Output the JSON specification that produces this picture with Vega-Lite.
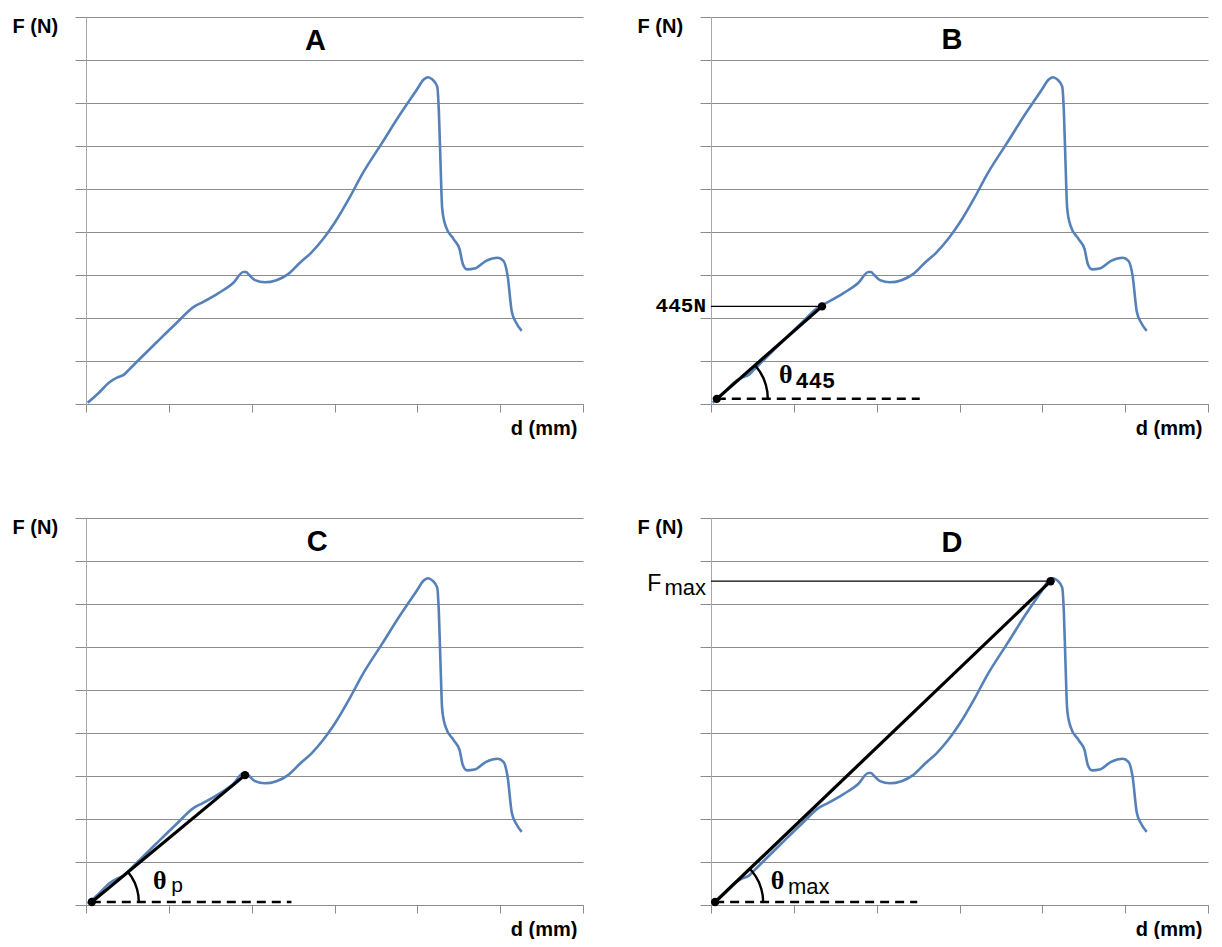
{
  "$schema": "https://vega.github.io/schema/vega-lite/v6.json",
  "background": "white",
  "padding": {"left": 12, "top": 16, "right": 0, "bottom": 0},
  "config": {
    "view": {"stroke": null}
  },
  "datasets": {
    "curve": [
      {"d": 0.02, "F": 0.03}, {"d": 0.15, "F": 0.25}, {"d": 0.28, "F": 0.5}, {"d": 0.38, "F": 0.62}, {"d": 0.45, "F": 0.67},
      {"d": 0.52, "F": 0.8}, {"d": 0.66, "F": 1.07}, {"d": 0.85, "F": 1.43}, {"d": 1.08, "F": 1.86}, {"d": 1.31, "F": 2.27},
      {"d": 1.41, "F": 2.37}, {"d": 1.6, "F": 2.58}, {"d": 1.78, "F": 2.82}, {"d": 1.9, "F": 3.07}, {"d": 1.93, "F": 3.07},
      {"d": 1.97, "F": 3.0}, {"d": 2.04, "F": 2.88}, {"d": 2.16, "F": 2.83}, {"d": 2.3, "F": 2.88}, {"d": 2.44, "F": 3.02},
      {"d": 2.58, "F": 3.28}, {"d": 2.72, "F": 3.52}, {"d": 2.86, "F": 3.83}, {"d": 3.0, "F": 4.21}, {"d": 3.19, "F": 4.83},
      {"d": 3.33, "F": 5.33}, {"d": 3.57, "F": 6.06}, {"d": 3.8, "F": 6.76}, {"d": 3.99, "F": 7.3}, {"d": 4.08, "F": 7.55},
      {"d": 4.13, "F": 7.6}, {"d": 4.18, "F": 7.55}, {"d": 4.24, "F": 7.38}, {"d": 4.26, "F": 6.8}, {"d": 4.28, "F": 5.6},
      {"d": 4.3, "F": 4.55}, {"d": 4.34, "F": 4.15}, {"d": 4.44, "F": 3.83}, {"d": 4.51, "F": 3.6}, {"d": 4.55, "F": 3.25},
      {"d": 4.6, "F": 3.13}, {"d": 4.69, "F": 3.15}, {"d": 4.83, "F": 3.33}, {"d": 4.97, "F": 3.4}, {"d": 5.04, "F": 3.33},
      {"d": 5.09, "F": 2.98}, {"d": 5.14, "F": 2.15}, {"d": 5.19, "F": 1.9}, {"d": 5.26, "F": 1.7}
    ],
    "ann": [
      {"panel": "B", "series": "slope", "i": 0, "d": 0.07, "F": 0.12}, {"panel": "B", "series": "slope", "i": 1, "d": 1.34, "F": 2.27},
      {"panel": "B", "series": "dash", "i": 0, "d": 0.07, "F": 0.12}, {"panel": "B", "series": "dash", "i": 1, "d": 2.52, "F": 0.12},
      {"panel": "B", "series": "ref", "i": 0, "d": 0, "F": 2.27}, {"panel": "B", "series": "ref", "i": 1, "d": 1.34, "F": 2.27},
      {"panel": "B", "series": "arc", "i": 0, "d": 0.686, "F": 0.12}, {"panel": "B", "series": "arc", "i": 1, "d": 0.68, "F": 0.285},
      {"panel": "B", "series": "arc", "i": 2, "d": 0.662, "F": 0.447}, {"panel": "B", "series": "arc", "i": 3, "d": 0.633, "F": 0.603},
      {"panel": "B", "series": "arc", "i": 4, "d": 0.592, "F": 0.748}, {"panel": "B", "series": "arc", "i": 5, "d": 0.531, "F": 0.906},
      {"panel": "C", "series": "slope", "i": 0, "d": 0.07, "F": 0.07}, {"panel": "C", "series": "slope", "i": 1, "d": 1.92, "F": 3.02},
      {"panel": "C", "series": "dash", "i": 0, "d": 0.07, "F": 0.07}, {"panel": "C", "series": "dash", "i": 1, "d": 2.48, "F": 0.07},
      {"panel": "C", "series": "arc", "i": 0, "d": 0.638, "F": 0.07}, {"panel": "C", "series": "arc", "i": 1, "d": 0.632, "F": 0.222},
      {"panel": "C", "series": "arc", "i": 2, "d": 0.616, "F": 0.371}, {"panel": "C", "series": "arc", "i": 3, "d": 0.589, "F": 0.515},
      {"panel": "C", "series": "arc", "i": 4, "d": 0.552, "F": 0.649}, {"panel": "C", "series": "arc", "i": 5, "d": 0.507, "F": 0.766},
      {"panel": "D", "series": "slope", "i": 0, "d": 0.05, "F": 0.07}, {"panel": "D", "series": "slope", "i": 1, "d": 4.1, "F": 7.53},
      {"panel": "D", "series": "dash", "i": 0, "d": 0.05, "F": 0.07}, {"panel": "D", "series": "dash", "i": 1, "d": 2.49, "F": 0.07},
      {"panel": "D", "series": "ref", "i": 0, "d": 0, "F": 7.53}, {"panel": "D", "series": "ref", "i": 1, "d": 4.1, "F": 7.53},
      {"panel": "D", "series": "arc", "i": 0, "d": 0.63, "F": 0.07}, {"panel": "D", "series": "arc", "i": 1, "d": 0.624, "F": 0.225},
      {"panel": "D", "series": "arc", "i": 2, "d": 0.607, "F": 0.378}, {"panel": "D", "series": "arc", "i": 3, "d": 0.58, "F": 0.524},
      {"panel": "D", "series": "arc", "i": 4, "d": 0.542, "F": 0.661}, {"panel": "D", "series": "arc", "i": 5, "d": 0.494, "F": 0.787},
      {"panel": "D", "series": "arc", "i": 6, "d": 0.469, "F": 0.843}
    ],
    "pts": [
      {"panel": "B", "d": 0.07, "F": 0.12}, {"panel": "B", "d": 1.34, "F": 2.27},
      {"panel": "C", "d": 0.07, "F": 0.07}, {"panel": "C", "d": 1.92, "F": 3.02},
      {"panel": "D", "d": 0.05, "F": 0.07}, {"panel": "D", "d": 4.1, "F": 7.53}
    ],
    "labels": [
      {"panel": "A", "role": "title", "text": "A", "d": 2.77, "F": 8.23},
      {"panel": "B", "role": "title", "text": "B", "d": 2.91, "F": 8.26},
      {"panel": "C", "role": "title", "text": "C", "d": 2.79, "F": 8.24},
      {"panel": "D", "role": "title", "text": "D", "d": 2.91, "F": 8.21},
      {"panel": "B", "role": "thetaMono", "text": "θ", "d": 0.82, "F": 0.49},
      {"panel": "B", "role": "subMono", "text": "445", "d": 1.02, "F": 0.37},
      {"panel": "B", "role": "leftMono", "text": "445N", "d": -0.06, "F": 2.27},
      {"panel": "C", "role": "theta", "text": "θ", "d": 0.81, "F": 0.37},
      {"panel": "C", "role": "sub", "text": "p", "d": 1.03, "F": 0.3},
      {"panel": "D", "role": "theta", "text": "θ", "d": 0.72, "F": 0.38},
      {"panel": "D", "role": "sub", "text": "max", "d": 0.93, "F": 0.26},
      {"panel": "D", "role": "Fbig", "text": "F", "d": -0.6, "F": 7.3},
      {"panel": "D", "role": "Fsub", "text": "max", "d": -0.06, "F": 7.21}
    ]
  },
  "columns": 2,
  "spacing": {"row": 114, "column": 128},
  "bounds": "flush",
  "concat": [
    {
      "width": 497, "height": 387,
      "layer": [
        {"data": {"name": "curve"}, "mark": {"type": "line", "color": "#5580b8", "strokeWidth": 2.6, "interpolate": "monotone"},
         "encoding": {
           "x": {"field": "d", "type": "quantitative", "scale": {"domain": [0, 6], "nice": false},
                 "axis": {"values": [0,1,2,3,4,5,6], "labels": false, "grid": false, "tickSize": 8, "tickColor": "#8c8c8c", "domainColor": "#8c8c8c", "title": "d (mm)", "titleFont": "Liberation Sans", "titleFontSize": 20, "titleFontWeight": "bold", "titleColor": "#000000", "titleAlign": "right", "titleX": 491, "titleY": 30, "titleBaseline": "alphabetic"}},
           "y": {"field": "F", "type": "quantitative", "scale": {"domain": [0, 9], "nice": false},
                 "axis": {"values": [0,1,2,3,4,5,6,7,8,9], "labels": false, "grid": true, "gridColor": "#8c8c8c", "gridOpacity": 1, "tickSize": 11, "tickColor": "#8c8c8c", "domainColor": "#a8a8a8", "title": "F (N)", "titleFont": "Liberation Sans", "titleFontSize": 20, "titleFontWeight": "bold", "titleColor": "#000000", "titleAngle": 0, "titleAlign": "left", "titleBaseline": "alphabetic", "titleX": -74, "titleY": 15}}}},
        {"data": {"name": "labels"}, "transform": [{"filter": "datum.panel === 'A' && datum.role === 'title'"}],
         "mark": {"type": "text", "font": "Liberation Sans", "fontWeight": "bold", "fontSize": 29, "align": "center", "baseline": "alphabetic", "color": "#000000"},
         "encoding": {"x": {"field": "d", "type": "quantitative"}, "y": {"field": "F", "type": "quantitative"}, "text": {"field": "text"}}}
      ]
    },
    {
      "width": 497, "height": 387,
      "layer": [
        {"data": {"name": "curve"}, "mark": {"type": "line", "color": "#5580b8", "strokeWidth": 2.6, "interpolate": "monotone"},
         "encoding": {
           "x": {"field": "d", "type": "quantitative", "scale": {"domain": [0, 6], "nice": false},
                 "axis": {"values": [0,1,2,3,4,5,6], "labels": false, "grid": false, "tickSize": 8, "tickColor": "#8c8c8c", "domainColor": "#8c8c8c", "title": "d (mm)", "titleFont": "Liberation Sans", "titleFontSize": 20, "titleFontWeight": "bold", "titleColor": "#000000", "titleAlign": "right", "titleX": 491, "titleY": 30, "titleBaseline": "alphabetic"}},
           "y": {"field": "F", "type": "quantitative", "scale": {"domain": [0, 9], "nice": false},
                 "axis": {"values": [0,1,2,3,4,5,6,7,8,9], "labels": false, "grid": true, "gridColor": "#8c8c8c", "gridOpacity": 1, "tickSize": 11, "tickColor": "#8c8c8c", "domainColor": "#a8a8a8", "title": "F (N)", "titleFont": "Liberation Sans", "titleFontSize": 20, "titleFontWeight": "bold", "titleColor": "#000000", "titleAngle": 0, "titleAlign": "left", "titleBaseline": "alphabetic", "titleX": -74, "titleY": 15}}}},
        {"data": {"name": "ann"}, "transform": [{"filter": "datum.panel === 'B' && datum.series === 'ref'"}], "mark": {"type": "line", "color": "#000000", "strokeWidth": 1.3},
         "encoding": {"x": {"field": "d", "type": "quantitative"}, "y": {"field": "F", "type": "quantitative"}, "order": {"field": "i"}}},
        {"data": {"name": "ann"}, "transform": [{"filter": "datum.panel === 'B' && datum.series === 'dash'"}], "mark": {"type": "line", "color": "#000000", "strokeWidth": 2.5, "strokeDash": [9, 6]},
         "encoding": {"x": {"field": "d", "type": "quantitative"}, "y": {"field": "F", "type": "quantitative"}, "order": {"field": "i"}}},
        {"data": {"name": "ann"}, "transform": [{"filter": "datum.panel === 'B' && datum.series === 'arc'"}], "mark": {"type": "line", "color": "#000000", "strokeWidth": 2.4},
         "encoding": {"x": {"field": "d", "type": "quantitative"}, "y": {"field": "F", "type": "quantitative"}, "order": {"field": "i"}}},
        {"data": {"name": "ann"}, "transform": [{"filter": "datum.panel === 'B' && datum.series === 'slope'"}], "mark": {"type": "line", "color": "#000000", "strokeWidth": 3.2},
         "encoding": {"x": {"field": "d", "type": "quantitative"}, "y": {"field": "F", "type": "quantitative"}, "order": {"field": "i"}}},
        {"data": {"name": "pts"}, "transform": [{"filter": "datum.panel === 'B'"}], "mark": {"type": "circle", "color": "#000000", "size": 70, "opacity": 1},
         "encoding": {"x": {"field": "d", "type": "quantitative"}, "y": {"field": "F", "type": "quantitative"}}},
        {"data": {"name": "labels"}, "transform": [{"filter": "datum.panel === 'B' && datum.role === 'title'"}],
         "mark": {"type": "text", "font": "Liberation Sans", "fontWeight": "bold", "fontSize": 29, "align": "center", "baseline": "alphabetic", "color": "#000000"},
         "encoding": {"x": {"field": "d", "type": "quantitative"}, "y": {"field": "F", "type": "quantitative"}, "text": {"field": "text"}}},
        {"data": {"name": "labels"}, "transform": [{"filter": "datum.panel === 'B' && datum.role === 'thetaMono'"}],
         "mark": {"type": "text", "font": "Liberation Serif", "fontWeight": "bold", "fontSize": 26, "align": "left", "baseline": "alphabetic", "color": "#000000"},
         "encoding": {"x": {"field": "d", "type": "quantitative"}, "y": {"field": "F", "type": "quantitative"}, "text": {"field": "text"}}},
        {"data": {"name": "labels"}, "transform": [{"filter": "datum.panel === 'B' && datum.role === 'subMono'"}],
         "mark": {"type": "text", "font": "Liberation Mono", "fontWeight": "bold", "fontSize": 22, "align": "left", "baseline": "alphabetic", "color": "#000000"},
         "encoding": {"x": {"field": "d", "type": "quantitative"}, "y": {"field": "F", "type": "quantitative"}, "text": {"field": "text"}}},
        {"data": {"name": "labels"}, "transform": [{"filter": "datum.panel === 'B' && datum.role === 'leftMono'"}],
         "mark": {"type": "text", "font": "Liberation Mono", "fontWeight": "bold", "fontSize": 21, "align": "right", "baseline": "middle", "color": "#000000"},
         "encoding": {"x": {"field": "d", "type": "quantitative"}, "y": {"field": "F", "type": "quantitative"}, "text": {"field": "text"}}}
      ]
    },
    {
      "width": 497, "height": 387,
      "layer": [
        {"data": {"name": "curve"}, "mark": {"type": "line", "color": "#5580b8", "strokeWidth": 2.6, "interpolate": "monotone"},
         "encoding": {
           "x": {"field": "d", "type": "quantitative", "scale": {"domain": [0, 6], "nice": false},
                 "axis": {"values": [0,1,2,3,4,5,6], "labels": false, "grid": false, "tickSize": 8, "tickColor": "#8c8c8c", "domainColor": "#8c8c8c", "title": "d (mm)", "titleFont": "Liberation Sans", "titleFontSize": 20, "titleFontWeight": "bold", "titleColor": "#000000", "titleAlign": "right", "titleX": 491, "titleY": 30, "titleBaseline": "alphabetic"}},
           "y": {"field": "F", "type": "quantitative", "scale": {"domain": [0, 9], "nice": false},
                 "axis": {"values": [0,1,2,3,4,5,6,7,8,9], "labels": false, "grid": true, "gridColor": "#8c8c8c", "gridOpacity": 1, "tickSize": 11, "tickColor": "#8c8c8c", "domainColor": "#a8a8a8", "title": "F (N)", "titleFont": "Liberation Sans", "titleFontSize": 20, "titleFontWeight": "bold", "titleColor": "#000000", "titleAngle": 0, "titleAlign": "left", "titleBaseline": "alphabetic", "titleX": -74, "titleY": 15}}}},
        {"data": {"name": "ann"}, "transform": [{"filter": "datum.panel === 'C' && datum.series === 'dash'"}], "mark": {"type": "line", "color": "#000000", "strokeWidth": 2.5, "strokeDash": [9, 6]},
         "encoding": {"x": {"field": "d", "type": "quantitative"}, "y": {"field": "F", "type": "quantitative"}, "order": {"field": "i"}}},
        {"data": {"name": "ann"}, "transform": [{"filter": "datum.panel === 'C' && datum.series === 'arc'"}], "mark": {"type": "line", "color": "#000000", "strokeWidth": 2.4},
         "encoding": {"x": {"field": "d", "type": "quantitative"}, "y": {"field": "F", "type": "quantitative"}, "order": {"field": "i"}}},
        {"data": {"name": "ann"}, "transform": [{"filter": "datum.panel === 'C' && datum.series === 'slope'"}], "mark": {"type": "line", "color": "#000000", "strokeWidth": 3.2},
         "encoding": {"x": {"field": "d", "type": "quantitative"}, "y": {"field": "F", "type": "quantitative"}, "order": {"field": "i"}}},
        {"data": {"name": "pts"}, "transform": [{"filter": "datum.panel === 'C'"}], "mark": {"type": "circle", "color": "#000000", "size": 70, "opacity": 1},
         "encoding": {"x": {"field": "d", "type": "quantitative"}, "y": {"field": "F", "type": "quantitative"}}},
        {"data": {"name": "labels"}, "transform": [{"filter": "datum.panel === 'C' && datum.role === 'title'"}],
         "mark": {"type": "text", "font": "Liberation Sans", "fontWeight": "bold", "fontSize": 29, "align": "center", "baseline": "alphabetic", "color": "#000000"},
         "encoding": {"x": {"field": "d", "type": "quantitative"}, "y": {"field": "F", "type": "quantitative"}, "text": {"field": "text"}}},
        {"data": {"name": "labels"}, "transform": [{"filter": "datum.panel === 'C' && datum.role === 'theta'"}],
         "mark": {"type": "text", "font": "Liberation Serif", "fontWeight": "bold", "fontSize": 26, "align": "left", "baseline": "alphabetic", "color": "#000000"},
         "encoding": {"x": {"field": "d", "type": "quantitative"}, "y": {"field": "F", "type": "quantitative"}, "text": {"field": "text"}}},
        {"data": {"name": "labels"}, "transform": [{"filter": "datum.panel === 'C' && datum.role === 'sub'"}],
         "mark": {"type": "text", "font": "Liberation Sans", "fontSize": 21, "align": "left", "baseline": "alphabetic", "color": "#000000"},
         "encoding": {"x": {"field": "d", "type": "quantitative"}, "y": {"field": "F", "type": "quantitative"}, "text": {"field": "text"}}}
      ]
    },
    {
      "width": 497, "height": 387,
      "layer": [
        {"data": {"name": "curve"}, "mark": {"type": "line", "color": "#5580b8", "strokeWidth": 2.6, "interpolate": "monotone"},
         "encoding": {
           "x": {"field": "d", "type": "quantitative", "scale": {"domain": [0, 6], "nice": false},
                 "axis": {"values": [0,1,2,3,4,5,6], "labels": false, "grid": false, "tickSize": 8, "tickColor": "#8c8c8c", "domainColor": "#8c8c8c", "title": "d (mm)", "titleFont": "Liberation Sans", "titleFontSize": 20, "titleFontWeight": "bold", "titleColor": "#000000", "titleAlign": "right", "titleX": 491, "titleY": 30, "titleBaseline": "alphabetic"}},
           "y": {"field": "F", "type": "quantitative", "scale": {"domain": [0, 9], "nice": false},
                 "axis": {"values": [0,1,2,3,4,5,6,7,8,9], "labels": false, "grid": true, "gridColor": "#8c8c8c", "gridOpacity": 1, "tickSize": 11, "tickColor": "#8c8c8c", "domainColor": "#a8a8a8", "title": "F (N)", "titleFont": "Liberation Sans", "titleFontSize": 20, "titleFontWeight": "bold", "titleColor": "#000000", "titleAngle": 0, "titleAlign": "left", "titleBaseline": "alphabetic", "titleX": -74, "titleY": 15}}}},
        {"data": {"name": "ann"}, "transform": [{"filter": "datum.panel === 'D' && datum.series === 'ref'"}], "mark": {"type": "line", "color": "#000000", "strokeWidth": 1.3},
         "encoding": {"x": {"field": "d", "type": "quantitative"}, "y": {"field": "F", "type": "quantitative"}, "order": {"field": "i"}}},
        {"data": {"name": "ann"}, "transform": [{"filter": "datum.panel === 'D' && datum.series === 'dash'"}], "mark": {"type": "line", "color": "#000000", "strokeWidth": 2.5, "strokeDash": [9, 6]},
         "encoding": {"x": {"field": "d", "type": "quantitative"}, "y": {"field": "F", "type": "quantitative"}, "order": {"field": "i"}}},
        {"data": {"name": "ann"}, "transform": [{"filter": "datum.panel === 'D' && datum.series === 'arc'"}], "mark": {"type": "line", "color": "#000000", "strokeWidth": 2.4},
         "encoding": {"x": {"field": "d", "type": "quantitative"}, "y": {"field": "F", "type": "quantitative"}, "order": {"field": "i"}}},
        {"data": {"name": "ann"}, "transform": [{"filter": "datum.panel === 'D' && datum.series === 'slope'"}], "mark": {"type": "line", "color": "#000000", "strokeWidth": 3.2},
         "encoding": {"x": {"field": "d", "type": "quantitative"}, "y": {"field": "F", "type": "quantitative"}, "order": {"field": "i"}}},
        {"data": {"name": "pts"}, "transform": [{"filter": "datum.panel === 'D'"}], "mark": {"type": "circle", "color": "#000000", "size": 70, "opacity": 1},
         "encoding": {"x": {"field": "d", "type": "quantitative"}, "y": {"field": "F", "type": "quantitative"}}},
        {"data": {"name": "labels"}, "transform": [{"filter": "datum.panel === 'D' && datum.role === 'title'"}],
         "mark": {"type": "text", "font": "Liberation Sans", "fontWeight": "bold", "fontSize": 29, "align": "center", "baseline": "alphabetic", "color": "#000000"},
         "encoding": {"x": {"field": "d", "type": "quantitative"}, "y": {"field": "F", "type": "quantitative"}, "text": {"field": "text"}}},
        {"data": {"name": "labels"}, "transform": [{"filter": "datum.panel === 'D' && datum.role === 'theta'"}],
         "mark": {"type": "text", "font": "Liberation Serif", "fontWeight": "bold", "fontSize": 26, "align": "left", "baseline": "alphabetic", "color": "#000000"},
         "encoding": {"x": {"field": "d", "type": "quantitative"}, "y": {"field": "F", "type": "quantitative"}, "text": {"field": "text"}}},
        {"data": {"name": "labels"}, "transform": [{"filter": "datum.panel === 'D' && datum.role === 'sub'"}],
         "mark": {"type": "text", "font": "Liberation Sans", "fontSize": 22, "align": "left", "baseline": "alphabetic", "color": "#000000"},
         "encoding": {"x": {"field": "d", "type": "quantitative"}, "y": {"field": "F", "type": "quantitative"}, "text": {"field": "text"}}},
        {"data": {"name": "labels"}, "transform": [{"filter": "datum.panel === 'D' && datum.role === 'Fbig'"}],
         "mark": {"type": "text", "font": "Liberation Sans", "fontSize": 23, "align": "right", "baseline": "alphabetic", "color": "#000000"},
         "encoding": {"x": {"field": "d", "type": "quantitative"}, "y": {"field": "F", "type": "quantitative"}, "text": {"field": "text"}}},
        {"data": {"name": "labels"}, "transform": [{"filter": "datum.panel === 'D' && datum.role === 'Fsub'"}],
         "mark": {"type": "text", "font": "Liberation Sans", "fontSize": 22, "align": "right", "baseline": "alphabetic", "color": "#000000"},
         "encoding": {"x": {"field": "d", "type": "quantitative"}, "y": {"field": "F", "type": "quantitative"}, "text": {"field": "text"}}}
      ]
    }
  ]
}
